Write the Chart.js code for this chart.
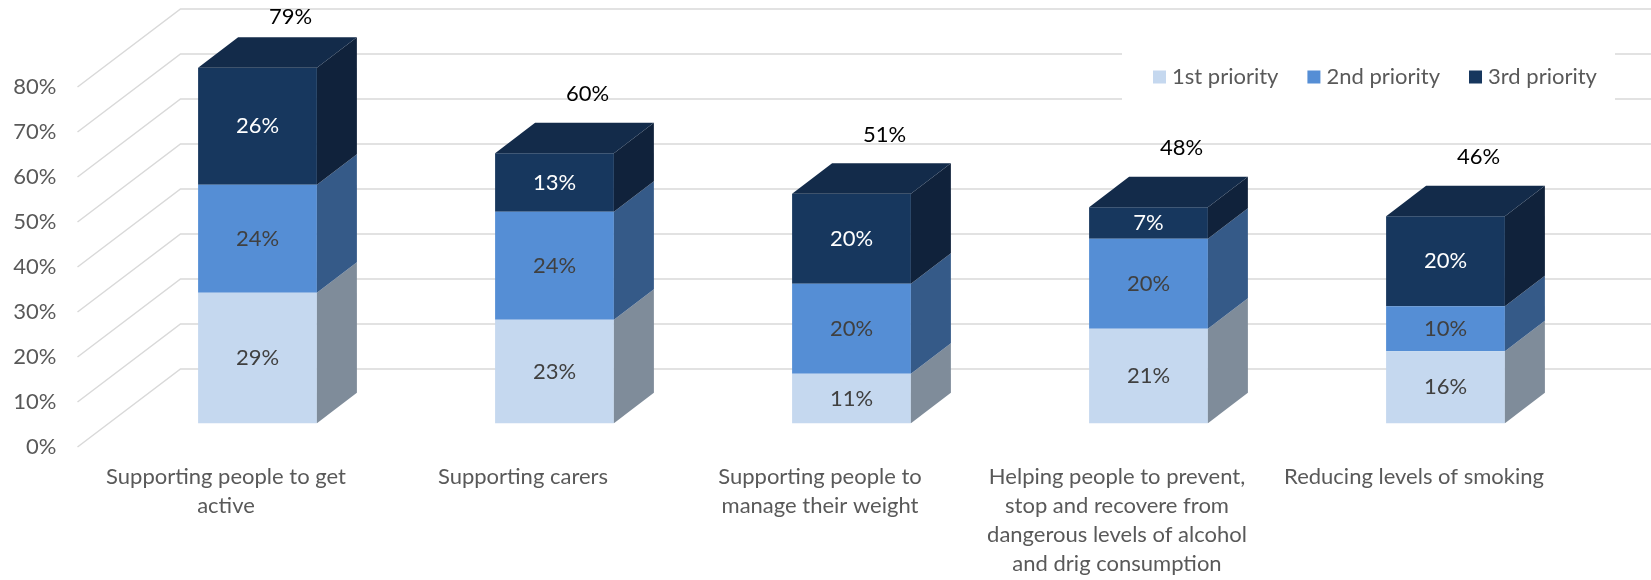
<!DOCTYPE html>
<html>
<head>
<meta charset="utf-8">
<script src="https://cdn.jsdelivr.net/npm/chart.js@4"></script>
<style>
    html, body { margin: 0; padding: 0; background: #fff; }
    #wrap { width: 1651px; height: 580px; }
</style>
</head>
<body>
<div id="wrap"><canvas id="priorityChart" width="1651" height="580"></canvas></div>
<script>
// data
const categories = [
    ['Supporting people to get', 'active'],
    ['Supporting carers'],
    ['Supporting people to', 'manage their weight'],
    ['Helping people to prevent,', 'stop and recovere from', 'dangerous levels of alcohol', 'and drig consumption'],
    ['Reducing levels of smoking']
];
const seriesNames = ['1st priority', '2nd priority', '3rd priority'];
const firstPriority = [29, 23, 11, 21, 16];
const secondPriority = [24, 24, 20, 20, 10];
const thirdPriority = [26, 13, 20, 7, 20];
const totals = [79, 60, 51, 48, 46];
const yTicks = [0, 10, 20, 30, 40, 50, 60, 70, 80];

const FONT = 'Lato, "Open Sans", sans-serif';
const frontColors = ['#C5D8EF', '#558ED5', '#17375E'];
const sideColors = ['#7F8C9A', '#355A88', '#10223B'];
const topColors = ['#D6E3F4', '#4A7EC0', '#132B4A'];
const labelColors = ['#404040', '#404040', '#FFFFFF'];

// oblique 3d depth: the floor and the bars inside it
const FLOOR = { x: 103, y: -78 };
const BAR = { x: 40, y: -30.5 };
const SHIFT = { x: (FLOOR.x - BAR.x) / 2, y: (FLOOR.y - BAR.y) / 2 };

const depthGrid = {
    id: 'depthGrid',
    beforeDatasetsDraw(chart) {
        const { ctx, chartArea, scales: { y } } = chart;
        ctx.save();
        ctx.strokeStyle = '#D9D9D9';
        ctx.lineWidth = 1.5;
        yTicks.forEach(v => {
            const py = y.getPixelForValue(v);
            ctx.beginPath();
            ctx.moveTo(chartArea.left, py);
            ctx.lineTo(chartArea.left + FLOOR.x, py + FLOOR.y);
            ctx.lineTo(chart.width, py + FLOOR.y);
            ctx.stroke();
        });
        ctx.restore();
        // bars sit in the middle of the floor depth
        ctx.save();
        ctx.translate(SHIFT.x, SHIFT.y);
    },
    afterDatasetsDraw(chart) {
        const { ctx, chartArea } = chart;
        const n = chart.data.datasets.length;
        ctx.font = '22px ' + FONT;
        ctx.textAlign = 'center';
        ctx.textBaseline = 'middle';
        for (let d = 0; d < n; d++) {
            const meta = chart.getDatasetMeta(d);
            meta.data.forEach((bar, i) => {
                const half = bar.width / 2;
                const r = bar.x + half;
                // side face
                ctx.fillStyle = sideColors[d];
                ctx.beginPath();
                ctx.moveTo(r, bar.base);
                ctx.lineTo(r + BAR.x, bar.base + BAR.y);
                ctx.lineTo(r + BAR.x, bar.y + BAR.y);
                ctx.lineTo(r, bar.y);
                ctx.closePath();
                ctx.fill();
                // top face only on the last segment
                if (d === n - 1) {
                    const l = bar.x - half;
                    ctx.fillStyle = topColors[d];
                    ctx.beginPath();
                    ctx.moveTo(l, bar.y);
                    ctx.lineTo(l + BAR.x, bar.y + BAR.y);
                    ctx.lineTo(r + BAR.x, bar.y + BAR.y);
                    ctx.lineTo(r, bar.y);
                    ctx.closePath();
                    ctx.fill();
                }
                // value label
                ctx.fillStyle = labelColors[d];
                const v = chart.data.datasets[d].data[i];
                ctx.fillText(v + '%', bar.x, (bar.y + bar.base) / 2);
            });
        }
        // totals above each stack
        const topMeta = chart.getDatasetMeta(n - 1);
        ctx.fillStyle = '#000000';
        topMeta.data.forEach((bar, i) => {
            const ly = Math.max(bar.y - 59, chartArea.top - 46);
            ctx.fillText(totals[i] + '%', bar.x + 33, ly);
        });
        ctx.restore();
    }
};

const boxLegend = {
    id: 'boxLegend',
    afterDraw(chart) {
        const { ctx } = chart;
        ctx.save();
        ctx.fillStyle = '#FFFFFF';
        ctx.fillRect(1122, 47, 493, 60);
        ctx.font = '22px ' + FONT;
        ctx.textBaseline = 'middle';
        ctx.textAlign = 'left';
        let x = 1153;
        const cy = 77;
        chart.data.datasets.forEach((ds, i) => {
            ctx.fillStyle = frontColors[i];
            ctx.fillRect(x, cy - 6.5, 13, 13);
            ctx.fillStyle = '#595959';
            ctx.fillText(ds.label, x + 19, cy);
            x += 19 + ctx.measureText(ds.label).width + 29;
        });
        ctx.restore();
    }
};

const seriesData = [firstPriority, secondPriority, thirdPriority];

new Chart(document.getElementById('priorityChart'), {
    type: 'bar',
    data: {
        labels: categories,
        datasets: seriesNames.map((name, i) => ({
            label: name,
            data: seriesData[i],
            backgroundColor: frontColors[i],
            borderWidth: 0,
            clip: false,
            categoryPercentage: 1,
            barPercentage: 0.4
        }))
    },
    options: {
        responsive: false,
        animation: false,
        layout: { padding: { top: 87, right: 88.5, left: 0, bottom: 0 } },
        plugins: {
            legend: { display: false },
            tooltip: { enabled: false }
        },
        scales: {
            x: {
                stacked: true,
                grid: { display: false, drawTicks: false },
                border: { display: false },
                ticks: {
                    color: '#595959',
                    font: { family: FONT, size: 22, lineHeight: 1.32 },
                    padding: 15.5,
                    maxRotation: 0,
                    autoSkip: false
                },
                afterFit(scale) { scale.height = 133; }
            },
            y: {
                stacked: true,
                min: 0,
                max: 80,
                grid: { display: false, drawTicks: false },
                border: { display: false },
                ticks: {
                    stepSize: 10,
                    color: '#595959',
                    font: { family: FONT, size: 22 },
                    padding: 21,
                    callback: v => v + '%'
                },
                afterFit(scale) { scale.width = 77.5; }
            }
        }
    },
    plugins: [depthGrid, boxLegend]
});
</script>
</body>
</html>
